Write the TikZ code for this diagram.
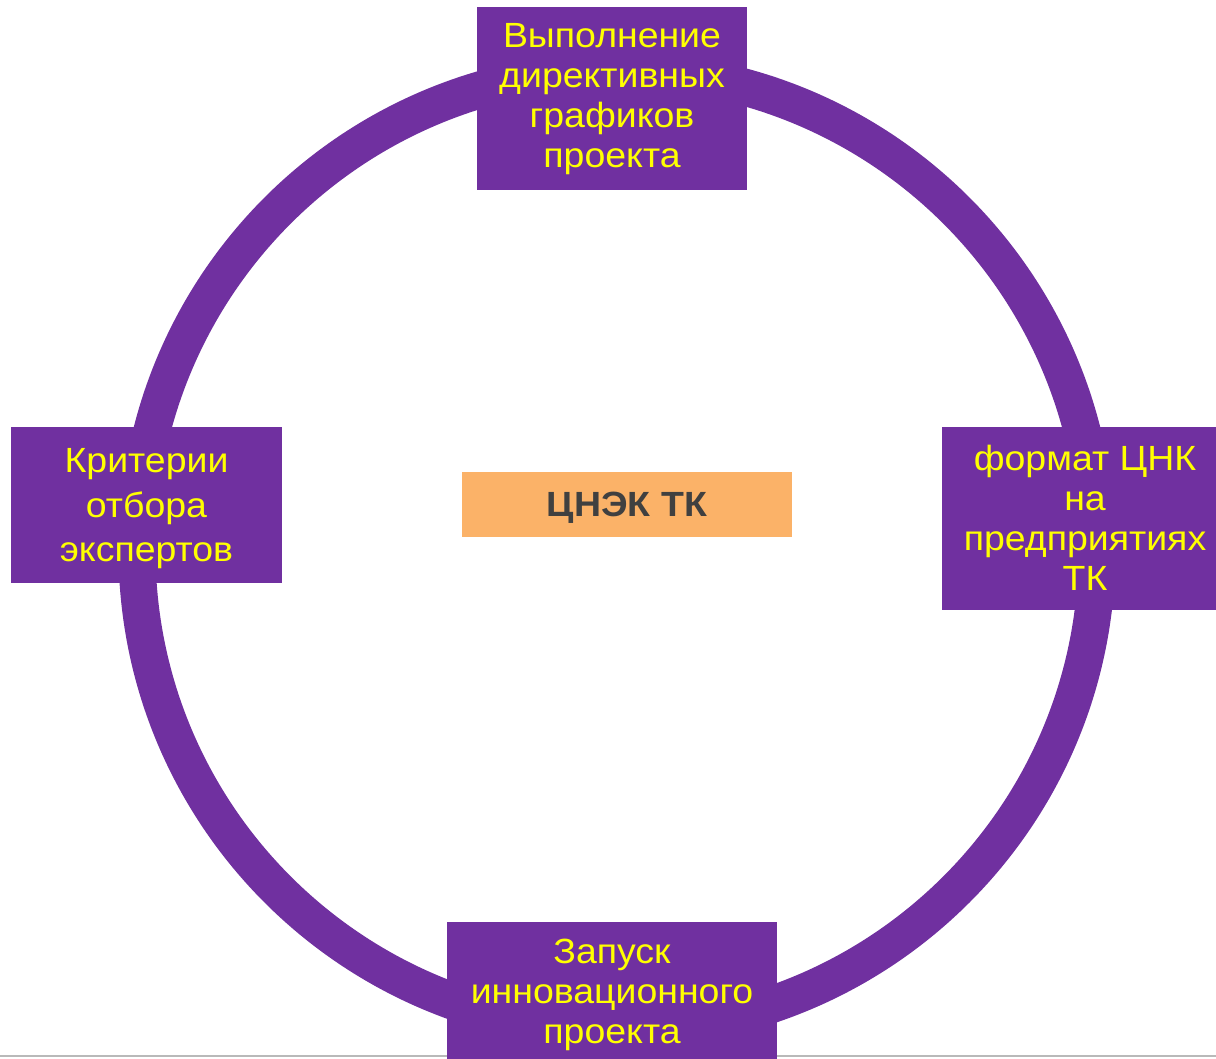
\documentclass[tikz,border=0pt]{standalone}
\usepackage{fontspec}
\setmainfont[FakeStretch=1.07]{Liberation Sans}
\definecolor{ringpurple}{HTML}{7030A0}
\definecolor{txtyellow}{HTML}{FFFF00}
\definecolor{centerorange}{HTML}{FBB268}
\definecolor{centertext}{HTML}{404040}
\begin{document}
\begin{tikzpicture}[x=1pt,y=-1pt,
  pbox/.style={fill=ringpurple, draw=none, inner sep=0pt, outer sep=0pt, align=center,
    text=txtyellow, font=\fontsize{35}{40}\selectfont},
  cbox/.style={fill=centerorange, draw=none, inner sep=0pt, outer sep=0pt,
    text=centertext, font=\fontsize{35}{40}\selectfont\bfseries}]
\useasboundingbox (0,0) rectangle (1216,1058);
\clip (0,0) rectangle (1216,1058);
\fill[white] (0,0) rectangle (1216,1058);
\draw[gray!55, line width=1.5pt] (0,1056) -- (1216,1056);
% ring
\coordinate (ringc) at (617,550);
\draw[ringpurple, line width=37pt] (ringc) circle[radius=480];
% boxes
\node[pbox, minimum width=270pt, minimum height=183pt] (top) at (612,98.5) {};
\node[align=center, text=txtyellow, font=\fontsize{35}{40}\selectfont, inner sep=0pt] (toptext) at (612,99)
  {Выполнение\\директивных\\графиков\\проекта};
\node[pbox, minimum width=271pt, minimum height=156pt] (left) at (146.5,505) {};
\node[align=center, text=txtyellow, font=\fontsize{35}{44.5}\selectfont, inner sep=0pt] (lefttext) at (146.5,509)
  {Критерии\\отбора\\экспертов};
\node[pbox, minimum width=274pt, minimum height=183pt] (right) at (1079,518.5) {};
\node[align=center, text=txtyellow, font=\fontsize{35}{40}\selectfont, inner sep=0pt] (righttext) at (1085,518)
  {формат ЦНК\\на\\предприятиях\\ТК};
\node[pbox, minimum width=330pt, minimum height=140pt] (bottom) at (612,992) {};
\node[align=center, text=txtyellow, font=\fontsize{35}{40}\selectfont, inner sep=0pt] (bottomtext) at (612,995)
  {Запуск\\инновационного\\проекта};
\node[cbox, minimum width=330pt, minimum height=65pt] (center) at (627,504.5) {};
\node[text=centertext, font=\fontsize{35}{40}\selectfont\bfseries, inner sep=0pt] (centertext) at (627,508) {ЦНЭК ТК};
\end{tikzpicture}
\end{document}
